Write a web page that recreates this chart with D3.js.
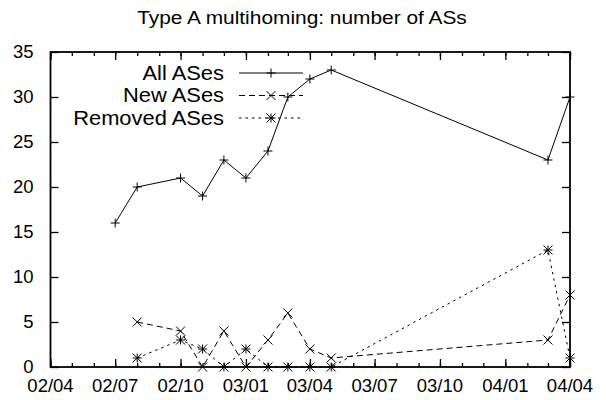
<!DOCTYPE html>
<html><head><meta charset="utf-8">
<script src="https://cdn.jsdelivr.net/npm/d3@7"></script>
<style>body{margin:0;background:#fff}svg{display:block}text{font-family:"Liberation Sans",Arial,Helvetica,sans-serif;fill:#000}</style>
</head><body><div id="chart"></div>
<script>
const title = "Type A multihoming: number of ASs";
const allDates = ["2002-07","2002-08","2002-10","2002-11","2002-12","2003-01","2003-02","2003-03","2003-04","2003-05","2004-03","2004-04"];
const allValues = [16,20,21,19,23,21,24,30,32,33,23,30];
const changeDates = ["2002-08","2002-10","2002-11","2002-12","2003-01","2003-02","2003-03","2003-04","2003-05","2004-03","2004-04"];
const newValues = [5,4,0,4,0,3,6,2,1,3,8];
const removedValues = [1,3,2,0,2,0,0,0,0,13,1];
const seriesNames = ["All ASes","New ASes","Removed ASes"];
const yTicks = [0,5,10,15,20,25,30,35];
const xDomain = ["2002-04","2004-04"];

const W = 606, H = 400;
const m = {l:50.5, r:570, t:52, b:367};
const parse = d3.timeParse("%Y-%m");
const fs = 18.5;

const svg = d3.select("#chart").append("svg").attr("width", W).attr("height", H);
const x = d3.scaleTime().domain(xDomain.map(parse)).range([m.l, m.r]);
const y = d3.scaleLinear().domain([0,35]).range([m.b, m.t]);

// horizontally stretched text helper
function stretch(sel, factor) {
  sel.each(function(){
    const w = this.getComputedTextLength();
    d3.select(this).attr("textLength", w*factor).attr("lengthAdjust","spacingAndGlyphs");
  });
}

svg.append("text").attr("x", 302).attr("y", 24).attr("text-anchor","middle")
  .style("font-size", "18px").text(title).call(stretch, 1.16);

const majors = d3.timeMonth.every(3).range(parse(xDomain[0]), d3.timeDay.offset(parse(xDomain[1]),1));
const minors = d3.timeMonth.range(parse(xDomain[0]), d3.timeDay.offset(parse(xDomain[1]),1));
const fmt = d3.timeFormat("%y/%m");

const tickStyle = g => { g.select(".domain").remove(); g.selectAll("line").attr("stroke","#000").attr("stroke-width",1.3); };
svg.append("g").attr("transform",`translate(0,${m.b})`)
  .call(d3.axisTop(x).tickValues(minors).tickSize(4).tickFormat("")).call(tickStyle);
svg.append("g").attr("transform",`translate(0,${m.b})`)
  .call(d3.axisTop(x).tickValues(majors).tickSize(8).tickFormat("")).call(tickStyle);
svg.append("g").attr("transform",`translate(0,${m.t})`)
  .call(d3.axisBottom(x).tickValues(minors).tickSize(4).tickFormat("")).call(tickStyle);
svg.append("g").attr("transform",`translate(0,${m.t})`)
  .call(d3.axisBottom(x).tickValues(majors).tickSize(8).tickFormat("")).call(tickStyle);
svg.append("g").attr("transform",`translate(${m.l},0)`)
  .call(d3.axisRight(y).tickValues(yTicks).tickSize(8).tickFormat("")).call(tickStyle);
svg.append("g").attr("transform",`translate(${m.r},0)`)
  .call(d3.axisLeft(y).tickValues(yTicks).tickSize(8).tickFormat("")).call(tickStyle);

svg.append("g").selectAll("text").data(majors).join("text")
  .attr("x", d=>x(d)).attr("y", 392).attr("text-anchor","middle")
  .style("font-size", fs+"px").text(d=>fmt(d));
svg.append("g").selectAll("text").data(yTicks).join("text")
  .attr("x", 33.5).attr("y", d=>y(d)).attr("dy","0.35em").attr("text-anchor","end")
  .style("font-size", fs+"px").text(d=>d);

svg.append("rect").attr("x", m.l).attr("y", m.t).attr("width", m.r-m.l).attr("height", m.b-m.t)
  .attr("fill","none").attr("stroke","#000").attr("stroke-width",1.8);

const s = 4.5;
const plusP = (cx,cy)=>`M${cx-s},${cy}H${cx+s}M${cx},${cy-s}V${cy+s}`;
const crossP = (cx,cy)=>`M${cx-s},${cy-s}L${cx+s},${cy+s}M${cx-s},${cy+s}L${cx+s},${cy-s}`;
const starP = (cx,cy)=>plusP(cx,cy)+crossP(cx,cy);
const markers = [plusP, crossP, starP];
const dashes = [null, "6,4", "2.5,4"];

const series = [
  allDates.map((d,i)=>({date:parse(d), v:allValues[i]})),
  changeDates.map((d,i)=>({date:parse(d), v:newValues[i]})),
  changeDates.map((d,i)=>({date:parse(d), v:removedValues[i]}))
];
const line = d3.line().x(d=>x(d.date)).y(d=>y(d.v));
series.forEach((data,k)=>{
  svg.append("path").datum(data).attr("d", line).attr("fill","none")
    .attr("stroke","#000").attr("stroke-width",1).attr("stroke-dasharray", dashes[k]);
  svg.append("path").attr("d", data.map(d=>markers[k](x(d.date), y(d.v))).join(""))
    .attr("fill","none").attr("stroke","#000").attr("stroke-width",1);
});

const legY = [73, 95.5, 118];
seriesNames.forEach((n,k)=>{
  svg.append("text").attr("x", 224).attr("y", legY[k]+6.5).attr("text-anchor","end")
    .style("font-size", "20px").text(n).call(stretch, 1.094);
  svg.append("line").attr("x1", 239).attr("x2", 303).attr("y1", legY[k]).attr("y2", legY[k])
    .attr("stroke","#000").attr("stroke-width",1).attr("stroke-dasharray", dashes[k]);
  svg.append("path").attr("d", markers[k](271, legY[k])).attr("fill","none").attr("stroke","#000").attr("stroke-width",1);
});
</script></body></html>
